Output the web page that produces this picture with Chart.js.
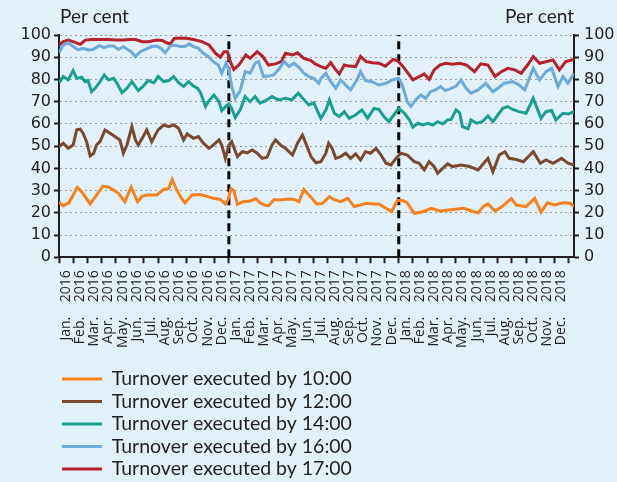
<!DOCTYPE html>
<html><head><meta charset="utf-8">
<script src="https://cdn.jsdelivr.net/npm/chart.js@4.4.1/dist/chart.umd.min.js"></script>
<style>
html,body{margin:0;padding:0;background:#e2f1f9;}
#wrap{width:617px;height:482px;position:relative;}
</style></head><body>
<div id="wrap"><canvas id="c" width="617" height="482"></canvas></div>
<script>
// ---- data (x = months since start of Jan. 2016) ----
const monthNames = ['Jan.','Feb.','Mar.','Apr.','May.','Jun.','Jul.','Aug.','Sep.','Oct.','Nov.','Dec.'];
const years = ['2016','2017','2018'];
const monthLabels = years.flatMap(y => monthNames.map(m => m + '    ' + y));
const yTickValues = [0,10,20,30,40,50,60,70,80,90,100];
const unitLabel = 'Per cent';
const breakMonths = [12, 24];
const seriesNames = ['Turnover executed by 10:00','Turnover executed by 12:00','Turnover executed by 14:00','Turnover executed by 16:00','Turnover executed by 17:00'];

const m10 = [0,0.3,0.7,1.3,1.6,2.2,2.6,3.1,3.5,3.8,4.2,4.65,5.1,5.55,5.9,6.2,6.6,6.9,7.4,7.75,8.0,8.3,8.6,8.9,9.4,10,10.5,10.9,11.4,11.75,11.95,12.15,12.35,12.6,13.0,13.5,13.9,14.2,14.6,14.8,15.2,15.6,15.9,16.3,16.6,16.95,17.3,17.8,18.2,18.6,19.1,19.4,19.9,20.4,20.85,21.3,21.7,22.2,22.6,23.1,23.5,23.9,24.3,24.6,25.1,25.7,26.3,26.9,27.5,28.0,28.6,29.3,29.6,30.0,30.3,30.8,31.35,31.95,32.3,33.0,33.6,34.05,34.5,35.0,35.6,36.1,36.38];
const v10 = [24.6,23.2,24.5,31.5,29.5,24,27.5,32,31.5,30.5,28.8,25,31.5,25,27.5,28,28,28,30.5,31,35,30.5,27,24.5,28,28.2,27.3,26.5,26,24,26,31,30,23.8,25,25.3,26.3,24.5,23.3,23.2,26,25.8,26,26.2,26,25,30.5,27,24,24.2,27.3,26,25,26.5,22.8,23.5,24.3,24,24,22,20.5,25.5,25.5,24.5,19.8,20.5,22,20.8,21.3,21.6,22,20.5,20,23,24,20.8,23,26.5,23.5,22.8,26.5,20.3,24.5,23.5,24.5,24.3,22.8];

const m12 = [0,0.3,0.65,1.0,1.25,1.5,1.7,1.95,2.2,2.45,2.65,2.9,3.25,3.6,3.95,4.3,4.55,4.8,5.15,5.4,5.6,5.95,6.2,6.55,7.0,7.4,7.75,8.1,8.45,8.8,9.05,9.5,9.85,10.2,10.6,10.9,11.3,11.5,11.75,12.0,12.2,12.6,12.95,13.3,13.65,14.0,14.35,14.7,15.05,15.3,15.65,16.0,16.5,16.85,17.2,17.45,17.8,18.15,18.5,18.85,19.05,19.3,19.55,19.9,20.25,20.6,20.95,21.3,21.65,22.0,22.4,22.75,23.1,23.45,23.8,24.15,24.6,25.1,25.45,25.8,26.15,26.5,26.75,27.1,27.45,27.8,28.4,29.0,29.6,29.9,30.3,30.65,31.1,31.5,31.8,32.3,32.8,33.5,34.0,34.4,34.9,35.5,35.95,36.38];
const v12 = [49.8,51.3,49,50.5,57.3,57.6,55.8,52,45.6,46.8,50.5,52,57.3,55.8,54.3,52.8,46.8,50.5,58.8,52.8,50.5,54.3,57.3,52,57.3,59.5,58.8,59.5,58,52.8,55.5,53.5,54.3,51.3,49,50.5,52.8,50.5,44.5,50.5,52,45.3,47.5,47,48.3,46.8,44.5,45,50.5,52.8,50.5,49,46,51.3,55,51,45.3,42.5,43,46.8,51.3,49,44.5,45.3,46.8,44.5,46.5,43.8,47.5,46.8,49,46,42.3,41.5,44.5,46.8,46,43,42.3,39.3,43,40.8,37.8,40,42,40.8,41.5,40.8,39.3,41.5,44.5,38.5,46,47.5,44.5,44,43,47.5,42.3,43.8,42.3,44.5,42.3,41.5];

const m14 = [0,0.3,0.65,1.0,1.25,1.6,1.85,2.05,2.3,2.55,2.9,3.2,3.5,3.85,4.1,4.45,4.8,5.15,5.6,5.95,6.3,6.7,7.0,7.4,7.75,8.1,8.45,8.8,9.15,9.5,9.8,10.0,10.35,10.6,10.95,11.3,11.5,11.8,12.0,12.2,12.45,12.8,13.15,13.5,13.85,14.2,14.6,15.05,15.5,16.0,16.45,16.9,17.3,17.65,18.0,18.35,18.5,18.85,19.1,19.45,19.8,20.15,20.5,20.95,21.4,21.8,22.25,22.6,22.95,23.3,23.65,24.0,24.4,24.75,25.0,25.35,25.7,26.05,26.4,26.75,27.1,27.45,27.7,28.05,28.3,28.5,28.9,29.1,29.5,29.9,30.3,30.65,31.0,31.35,31.7,32.05,32.5,33.0,33.5,34.05,34.4,34.8,35.1,35.6,36.0,36.38];
const v14 = [78.5,81.3,79.8,84,80.5,81,79,79.5,74.5,76,79,82,79.8,80.5,78.3,74,76,79,75,77,79.5,78.5,81.3,79,79.5,81.3,78.5,76.8,79,77,76,74,67.8,70.5,73,70,66,68,69,67,62.8,66.3,72.3,70,72.3,69.3,70.5,72.3,70.8,71.5,70.8,73.8,71,68.5,69.5,64.5,62.5,66.3,70.8,64.8,63.3,65.5,62.5,64,66.3,62.5,67,66.5,63.3,61,64,67,64.8,61.8,58.5,60.3,59.5,60.3,59.5,61,60,61.8,62,66.3,65,58.8,57.8,61.8,60.3,61,63.6,61,64,67,67.8,66.5,65.5,64.8,71.5,62.5,65.5,66,61.8,64.8,64.5,65.5];

const m16 = [0,0.3,0.65,1.0,1.35,1.7,2.05,2.4,2.85,3.2,3.5,3.85,4.2,4.55,4.85,5.1,5.4,5.75,6.1,6.55,6.9,7.2,7.5,7.85,8.2,8.55,8.9,9.2,9.5,9.85,10.2,10.55,10.9,11.25,11.5,11.8,12.0,12.2,12.45,12.8,13.15,13.5,13.85,14.1,14.45,14.8,15.15,15.5,15.9,16.25,16.6,16.95,17.3,17.65,18.0,18.35,18.5,18.85,19.2,19.55,19.9,20.25,20.6,21.05,21.3,21.65,22.1,22.6,23.1,23.55,24.0,24.25,24.6,24.85,25.2,25.55,25.9,26.25,26.6,26.95,27.3,27.7,28.05,28.4,28.75,29.1,29.6,30.15,30.65,31.0,31.45,32.05,32.5,32.9,33.5,33.95,34.4,34.8,35.25,35.6,35.95,36.38];
const v16 = [92,95.5,96.5,94.8,93.3,94,93.3,93.5,95.2,94.3,95,95,93.5,94.8,93.5,92.5,90.3,92.5,93.5,94.8,95,94,92,95,95.5,94.8,94.8,96,94.8,94,91.8,90.3,88,86.5,82.8,87.3,84.3,77,71.5,75,83.5,82.8,87.3,88,81.3,81.5,82,84.3,88,85.8,87.3,85.5,82.8,81.3,80.5,78.3,80.5,82.8,79,76,79.8,77.5,75.3,79.8,83.5,79.5,79,77.5,78.3,79.8,80.5,77.5,70,67.8,70.8,73,71.5,74.5,75.3,76.8,75,76,77,79.8,76,73.8,75.3,78.3,74.5,76,78.3,79,77.5,75.3,85,79.8,83.5,85,76.8,81.3,78.3,82.8];

const m17 = [0,0.3,0.65,1.0,1.5,1.85,2.3,2.8,3.5,4.0,4.5,5.0,5.4,5.9,6.3,6.9,7.3,7.6,7.85,8.15,8.5,9.0,9.5,10.1,10.6,11.05,11.4,11.65,11.9,12.1,12.35,12.7,13.2,13.5,14.0,14.4,14.8,15.3,15.7,16.0,16.5,16.85,17.3,17.8,18.1,18.5,18.85,19.2,19.55,19.8,20.15,20.5,20.95,21.3,21.7,22.15,22.6,23.05,23.6,23.9,24.3,24.65,25.0,25.45,25.8,26.15,26.5,26.9,27.3,27.8,28.3,28.8,29.35,29.8,30.3,30.8,31.25,31.7,32.2,32.65,33.1,33.5,33.95,34.4,34.9,35.35,35.8,36.38];
const v17 = [95.5,97,97.7,97,95.8,97.7,98,98,98,97.7,97.7,98,98,97,97,97.7,97.5,96.5,96,98.5,98.7,98.5,98,97,95.5,91.8,90,92.5,92.5,88,84.5,86.5,91,89.5,92.5,90.3,86.5,87,88,91.8,91,92,89.5,88.5,87,85.8,85,87.5,84.3,82.5,86.5,86,85.8,90.3,88,87.5,87.3,86,89,88.5,85.8,82.8,79.8,81.3,82.5,80,84.3,86.5,87.3,86.8,87.3,86.5,83.5,87,86.5,81.3,83.5,85,84.3,82.8,86.5,90.3,87.3,88,88.8,84.3,88,89];

// ---- styles ----
const colors = ['#f5821f','#7a4a30','#18a091','#6eaadc','#b5222b'];
const ink = '#231f20';
const seriesX = [m10, m12, m14, m16, m17];
const seriesY = [v10, v12, v14, v16, v17];

const datasets = seriesNames.map((name, k) => ({
  label: name,
  data: seriesX[k].map((x, i) => ({x, y: seriesY[k][i]})),
  borderColor: colors[k],
  backgroundColor: colors[k],
  borderWidth: 3,
  pointRadius: 0,
  tension: 0,
  fill: false
}));
breakMonths.forEach(mo => datasets.push({
  label: 'break',
  data: [{x: mo, y: 0}, {x: mo, y: 100}],
  borderColor: '#000',
  borderWidth: 3,
  borderDash: [8, 5],
  pointRadius: 0,
  fill: false
}));

const unitPlugin = {
  id: 'unitLabels',
  afterDraw(chart) {
    const {ctx, chartArea} = chart;
    ctx.save();
    ctx.font = '19px Lato';
    ctx.fillStyle = ink;
    ctx.textBaseline = 'middle';
    ctx.textAlign = 'left';
    ctx.fillText(unitLabel, chartArea.left + 1, 17);
    ctx.textAlign = 'right';
    ctx.fillText(unitLabel, chartArea.right, 17);
    ctx.restore();
  }
};

const yAxis = (pos) => ({
  type: 'linear', position: pos, min: 0, max: 100,
  afterBuildTicks: s => { s.ticks = yTickValues.map(v => ({value: v})); },
  afterFit: s => { s.width = pos === 'left' ? 41 : 43; },
  ticks: { font: {family: 'DejaVu Sans', size: 16}, color: ink, padding: pos === 'left' ? 3 : 5 },
  grid: { drawOnChartArea: pos === 'left', color: '#9c9c9c', lineWidth: 1, tickLength: 5, tickColor: ink, tickWidth: 2 },
  border: { color: ink, width: 2, dash: [2, 3] }
});

new Chart(document.getElementById('c'), {
  type: 'line',
  data: { datasets },
  options: {
    responsive: false,
    animation: false,
    layout: { padding: { left: 18, right: 0, top: 35, bottom: 0 } },
    scales: {
      x: {
        type: 'linear', min: 0, max: 36.38, bounds: 'data',
        afterBuildTicks: s => { s.ticks = monthLabels.map((_, i) => ({value: i})).concat([{value: 36}]); },
        afterFit: s => { s.height = 109; },
        ticks: {
          autoSkip: false, maxRotation: 90, minRotation: 90, labelOffset: 7, padding: 7,
          font: {family: 'Open Sans', size: 14}, color: ink,
          callback: (v, i) => monthLabels[i] !== undefined ? monthLabels[i] : ''
        },
        grid: { drawOnChartArea: false, tickLength: 6, tickColor: ink, tickWidth: 2 },
        border: { color: ink, width: 2 }
      },
      y: yAxis('left'),
      y2: yAxis('right')
    },
    plugins: {
      tooltip: { enabled: false },
      legend: {
        position: 'bottom', align: 'start', fullSize: false, maxHeight: 115.75,
        labels: {
          boxWidth: 40, boxHeight: 3, padding: 3,
          font: {family: 'Lato', size: 19.5}, color: ink,
          generateLabels: chart => Chart.defaults.plugins.legend.labels.generateLabels(chart)
            .filter(it => it.datasetIndex < seriesNames.length)
            .map(it => Object.assign(it, {lineWidth: 0}))
        }
      }
    }
  },
  plugins: [unitPlugin]
});
</script>
</body></html>
